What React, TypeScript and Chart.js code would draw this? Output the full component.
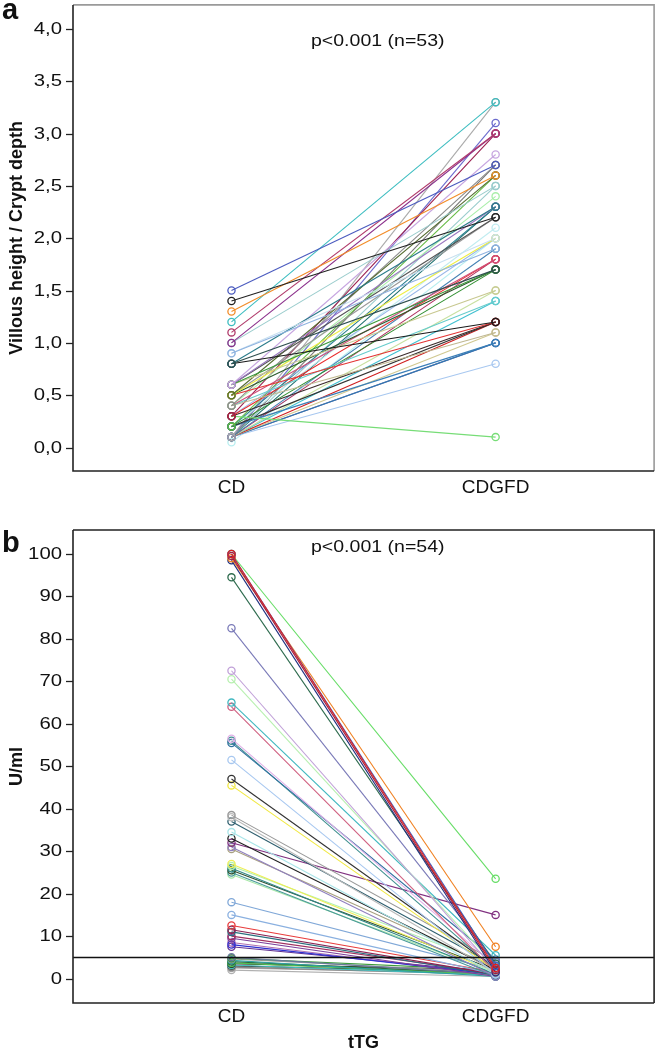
import React, { useEffect, useRef } from "react";
import { Chart, registerables } from "chart.js";

Chart.register(...registerables);

// ---------- data ----------
const groups = ["CD", "CDGFD"];

// panel a: villous height / crypt depth (n = 53)
const ratioCD = [
  1.5, 1.4, 1.3, 1.2, 1.1, 1.0, 1.0, 0.9, 0.9, 0.8,
  0.8, 0.8, 0.6, 0.6, 0.6, 0.6, 0.6, 0.5, 0.5, 0.5,
  0.5, 0.5, 0.4, 0.4, 0.4, 0.4, 0.4, 0.3, 0.3, 0.3,
  0.3, 0.3, 0.2, 0.2, 0.2, 0.2, 0.2, 0.2, 0.1, 0.1,
  0.1, 0.1, 0.1, 0.1, 0.1, 0.1, 0.1, 0.1, 0.1, 0.1,
  0.1, 0.1, 0.05,
];
const ratioGFD = [
  2.7, 2.2, 2.6, 3.3, 3.0, 3.0, 2.5, 1.9, 2.0, 1.7,
  2.3, 1.2, 2.8, 2.3, 1.7, 2.2, 1.5, 2.6, 2.0, 1.7,
  2.2, 1.2, 2.7, 2.4, 1.8, 1.4, 1.1, 3.0, 1.8, 1.2,
  0.1, 2.0, 2.6, 2.3, 1.7, 1.2, 1.0, 2.1, 3.3, 3.1,
  2.7, 2.5, 2.3, 1.9, 1.8, 1.5, 1.4, 1.2, 1.1, 1.0,
  1.0, 0.8, 2.0,
];
const ratioTicks = [0, 0.5, 1, 1.5, 2, 2.5, 3, 3.5, 4];
const ratioLabel = "p<0.001 (n=53)";

// panel b: tTG U/ml (n = 54)
const ttgCD = [
  100, 100, 99.5, 99, 98.5, 100, 94.5, 82.5, 72.5, 70.5,
  65, 64, 56.5, 55.5, 56, 51.5, 47, 45.5, 38.5, 38,
  37, 34.5, 33, 32, 31, 30.5, 27, 26.5, 26, 25.5,
  25, 24.5, 18, 15, 12.5, 11.5, 11, 10, 9.5, 8,
  8.5, 7.5, 5, 4.8, 4.6, 4.3, 4, 3.7, 3.5, 3.2,
  3, 2.7, 2.5, 2,
];
const ttgGFD = [
  2.5, 3, 2, 7.5, 1.5, 23.5, 3.5, 4, 2, 3,
  5.5, 1.5, 3, 4.5, 2, 1, 2.5, 2, 4, 1.5,
  3, 1, 2, 15, 0.5, 2.5, 1.5, 3, 1, 2,
  0.5, 1.2, 2, 1, 1.5, 1, 0.8, 1.2, 0.5, 1,
  0.8, 1.5, 1, 2, 1.5, 0.5, 1.2, 1, 2, 0.8,
  1.5, 1, 1.2, 0.5,
];
const ttgTicks = [0, 10, 20, 30, 40, 50, 60, 70, 80, 90, 100];
const ttgCutoff = 5;
const ttgLabel = "p<0.001 (n=54)";

// ---------- styles ----------
const ratioColors = [
  "#4b5bbf", "#222222", "#f28c28", "#3dbdc0", "#b03a6a", "#8b2f8b", "#99cccc", "#8fb3e0", "#c8e0f0", "#2f4f4f",
  "#2a7b8a", "#1a1a1a", "#c7a6e0", "#9a78c0", "#3a9a3a", "#555555", "#c8c890", "#556b2f", "#eeee44", "#2a5a2a",
  "#999999", "#e33333", "#8a8a8a", "#a8eea8", "#d0507a", "#66cccc", "#c0b890", "#9b2050", "#e82a2a", "#3b2b2b",
  "#77dd77", "#9ab8e8", "#66bb44", "#277f8f", "#2f8f2f", "#333333", "#3b7fb8", "#c0ecf0", "#aaaaaa", "#6a6acd",
  "#777777", "#99cccc", "#1f6f6f", "#4682b4", "#b03060", "#c8e0a0", "#40c0d0", "#d02020", "#d0c890", "#2f78b0",
  "#7b68ae", "#a8c8f0", "#b8eef0",
];
const ttgColors = [
  "#e02020", "#4060c0", "#a02040", "#f08020", "#203080", "#66dd66", "#2e6b4e", "#7a7ab8", "#c0a0d8", "#b8f0b0",
  "#40b8c0", "#d06080", "#e0b0e8", "#3070a0", "#409090", "#a8c8f0", "#333333", "#f0e840", "#999999", "#bbbbbb",
  "#2f5f6f", "#a8e4e8", "#222222", "#803080", "#9080c0", "#a8a080", "#eeee55", "#b0f0b0", "#308888", "#305030",
  "#4a9a9a", "#a8e8a8", "#80a8d8", "#8ab0e0", "#e83c3c", "#8b2252", "#2a6f7f", "#a03060", "#7b3f9b", "#3030d0",
  "#b070b0", "#603090", "#6a7a9a", "#3a9a3a", "#999999", "#30a0a0", "#2a6a3a", "#50c050", "#222222", "#40c0c0",
  "#444444", "#888888", "#aaaaaa", "#b0b0b0",
];

const FONT = "'Liberation Sans', Arial, Helvetica, sans-serif";
const INK = "#111";

function drawText(
  ctx: CanvasRenderingContext2D,
  s: string,
  x: number,
  y: number,
  font: string,
  align: CanvasTextAlign,
  sx = 1,
  rot = 0,
  baseline: CanvasTextBaseline = "middle"
) {
  ctx.save();
  ctx.translate(x, y);
  if (rot) ctx.rotate(rot);
  ctx.scale(sx, 1);
  ctx.font = font;
  ctx.textAlign = align;
  ctx.textBaseline = baseline;
  ctx.fillStyle = INK;
  ctx.fillText(s, 0, 0);
  ctx.restore();
}

type PanelSpec = {
  letter: string;
  cd: number[];
  gfd: number[];
  colors: string[];
  ticks: number[];
  fmt: (v: number) => string;
  yMin: number;
  yMax: number;
  height: number;
  padTop: number;
  xAxisHeight: number;
  yTitle: string;
  xTitle: string;
  pText: string;
  pY: number;
  letterY: number;
  xLabelY: number;
  xTitleY: number;
  cutoff: number | null;
  softFrame: boolean;
};

function Panel({ spec }: { spec: PanelSpec }) {
  const ref = useRef<HTMLCanvasElement>(null);
  useEffect(() => {
    const canvas = ref.current;
    if (!canvas) return;
    const datasets = spec.cd.map((v, i) => ({
      data: [
        { x: 1, y: v },
        { x: 2, y: spec.gfd[i] },
      ],
      showLine: true,
      borderColor: spec.colors[i],
      borderWidth: 1.1,
      backgroundColor: "rgba(0,0,0,0)",
      pointBorderColor: spec.colors[i],
      pointBackgroundColor: "rgba(0,0,0,0)",
      pointRadius: 3.6,
      pointBorderWidth: 1.3,
      pointHoverRadius: 3.6,
    }));

    const overlay = {
      id: "panelDecor",
      afterDatasetsDraw(chart: any) {
        const ctx: CanvasRenderingContext2D = chart.ctx;
        const a = chart.chartArea;
        const xs = chart.scales.x;
        const ys = chart.scales.y;
        ctx.save();
        // reference line
        if (spec.cutoff !== null) {
          const yy = Math.round(ys.getPixelForValue(spec.cutoff)) + 0.5;
          ctx.strokeStyle = INK;
          ctx.lineWidth = 1.3;
          ctx.beginPath();
          ctx.moveTo(a.left, yy);
          ctx.lineTo(a.right, yy);
          ctx.stroke();
        }
        // frame
        ctx.lineWidth = 1.6;
        ctx.strokeStyle = spec.softFrame ? "#9a9a9a" : "#222";
        ctx.beginPath();
        ctx.moveTo(a.left, a.top);
        ctx.lineTo(a.right, a.top);
        ctx.lineTo(a.right, a.bottom);
        ctx.stroke();
        ctx.strokeStyle = "#222";
        ctx.beginPath();
        ctx.moveTo(a.left, a.top);
        ctx.lineTo(a.left, a.bottom);
        ctx.lineTo(a.right, a.bottom);
        ctx.stroke();
        // y ticks + labels
        ctx.lineWidth = 1.3;
        ctx.strokeStyle = "#222";
        spec.ticks.forEach((t) => {
          const yy = Math.round(ys.getPixelForValue(t)) + 0.5;
          ctx.beginPath();
          ctx.moveTo(a.left - 7, yy);
          ctx.lineTo(a.left, yy);
          ctx.stroke();
          drawText(ctx, spec.fmt(t), a.left - 11, yy, `16px ${FONT}`, "right", 1.27);
        });
        // x labels
        groups.forEach((g, i) => {
          drawText(ctx, g, xs.getPixelForValue(i + 1), spec.xLabelY, `19px ${FONT}`, "center", 1.0);
        });
        if (spec.xTitle) {
          drawText(ctx, spec.xTitle, (xs.getPixelForValue(1) + xs.getPixelForValue(2)) / 2, spec.xTitleY, `bold 18px ${FONT}`, "center");
        }
        // y title
        drawText(ctx, spec.yTitle, 17, (a.top + a.bottom) / 2, `bold 18px ${FONT}`, "center", 1, -Math.PI / 2);
        // p-value
        drawText(ctx, spec.pText, 311, spec.pY, `16px ${FONT}`, "left", 1.22);
        // panel letter
        drawText(ctx, spec.letter, 2, spec.letterY, `bold 29px ${FONT}`, "left", 1, 0, "alphabetic");
        ctx.restore();
      },
    };

    const chart = new Chart(canvas, {
      type: "scatter",
      data: { datasets },
      options: {
        animation: false,
        responsive: false,
        maintainAspectRatio: false,
        events: [],
        layout: { padding: { top: spec.padTop, right: 4, left: 0, bottom: 0 } },
        plugins: { legend: { display: false }, tooltip: { enabled: false } },
        scales: {
          x: {
            type: "linear",
            min: 0.4,
            max: 2.6,
            ticks: { display: false },
            grid: { display: false, drawTicks: false },
            border: { display: false },
            afterFit: (s: any) => {
              s.height = spec.xAxisHeight;
            },
          },
          y: {
            type: "linear",
            min: spec.yMin,
            max: spec.yMax,
            ticks: { display: false },
            grid: { display: false, drawTicks: false },
            border: { display: false },
            afterFit: (s: any) => {
              s.width = 73;
            },
          },
        },
      },
      plugins: [overlay],
    } as any);
    return () => chart.destroy();
  }, [spec]);
  return <canvas ref={ref} width={659} height={spec.height} style={{ display: "block" }} />;
}

const panelA: PanelSpec = {
  letter: "a",
  cd: ratioCD,
  gfd: ratioGFD,
  colors: ratioColors,
  ticks: ratioTicks,
  fmt: (v) => v.toFixed(1).replace(".", ","),
  yMin: -0.224,
  yMax: 4.229,
  height: 505,
  padTop: 3,
  xAxisHeight: 34,
  yTitle: "Villous height / Crypt depth",
  xTitle: "",
  pText: ratioLabel,
  pY: 42,
  letterY: 19,
  xLabelY: 488,
  xTitleY: 0,
  cutoff: null,
  softFrame: true,
};

const panelB: PanelSpec = {
  letter: "b",
  cd: ttgCD,
  gfd: ttgGFD,
  colors: ttgColors,
  ticks: ttgTicks,
  fmt: (v) => String(v),
  yMin: -5.75,
  yMax: 105.65,
  height: 545,
  padTop: 25,
  xAxisHeight: 47,
  yTitle: "U/ml",
  xTitle: "tTG",
  pText: ttgLabel,
  pY: 43,
  letterY: 47,
  xLabelY: 512,
  xTitleY: 538,
  cutoff: ttgCutoff,
  softFrame: false,
};

export default function App() {
  return (
    <div style={{ position: "absolute", left: 0, top: 0, width: 659, height: 1050, background: "#fff" }}>
      <Panel spec={panelA} />
      <Panel spec={panelB} />
    </div>
  );
}
